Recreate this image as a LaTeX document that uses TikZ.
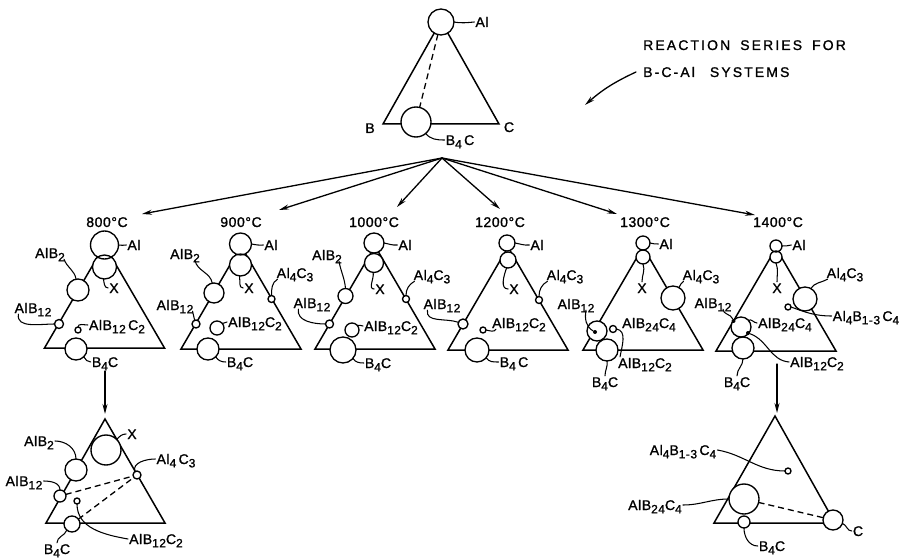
\documentclass[tikz,border=0pt]{standalone}
\usepackage{fontspec}
\setmainfont[LetterSpace=4,FakeBold=1.2]{Liberation Sans}
\usetikzlibrary{arrows.meta}
\pgfdeclarelayer{bg}
\pgfdeclarelayer{fills}
\pgfsetlayers{bg,fills,main}
\newcommand\dn[1]{\raisebox{-0.45ex}{\fontsize{12}{12}\selectfont #1}}
\newcommand\ph[4]{%
  \begin{pgfonlayer}{fills}\fill[white] (#2,-#3) circle[radius=#4pt];\end{pgfonlayer}%
  \node[phase,minimum size={2*#4pt}] (#1) at (#2,-#3) {};}
\begin{document}
\begin{tikzpicture}[x=1pt,y=1pt,line join=round,line cap=round,
  phase/.style={circle,draw,line width=1.35pt,inner sep=0pt,outer sep=0pt},
  tri/.style={line width=1.5pt},
  lead/.style={line width=1.05pt},
  lbl/.style={inner sep=1pt,text height=10pt,text depth=0pt,font=\fontsize{14}{14}\selectfont},
  ttl/.style={inner sep=0pt,anchor=west,text height=10pt,text depth=0pt,font=\fontsize{14}{14}\selectfont\addfontfeatures{LetterSpace=15}},
  arr/.style={line width=1.3pt,-{Stealth[length=10pt,width=5pt]}},
  dotm/.style={circle,fill,inner sep=0pt,minimum size=4pt},
  dsh/.style={line width=1.3pt,dash pattern=on 6pt off 4pt}]
\useasboundingbox (0,0) rectangle (908,-559);

% triangles
\begin{pgfonlayer}{bg}
\draw[tri] (441,-21) -- (383,-124) -- (499,-124) -- cycle;
\foreach \x/\y in {104.5/245, 241/246, 375/246, 508/247, 643/247, 776/248}
  \draw[tri] (\x,-\y) -- ++(-60,-103) -- ++(120,0) -- cycle;
\draw[tri] (105,-419) -- (46,-523) -- (165,-523) -- cycle;
\draw[tri] (775,-416) -- (714,-523) -- (835,-523) -- cycle;
\end{pgfonlayer}

% title
\node[ttl] (ti1) at (643,-45) {REACTION\hspace{10pt}SERIES\hspace{10pt}FOR};
\node[ttl] (ti2) at (643,-72) {B-C-Al\hspace{15pt}SYSTEMS};
\coordinate (tit) at (585,-105);
\draw[arr] ([xshift=-7pt]ti2.west) to[out=205,in=41] (tit);

% top triangle
\ph{Al0}{441}{22}{13}
\ph{Bf0}{416}{122}{15}
\node[lbl] (lAl0) at (482,-22) {Al};
\node[lbl] (lB0) at (370,-128) {B};
\node[lbl] (lC0) at (509,-127) {C};
\node[lbl] (lBf0) at (460,-140) {B\dn{4}\,C};
\draw[lead] (Al0.east) to[out=-10,in=185] (lAl0.west);
\draw[lead] (Bf0.-50) to[out=-50,in=180] (lBf0.west);
\begin{pgfonlayer}{bg}\draw[dsh] (Al0) -- (Bf0);\end{pgfonlayer}

% fan
\coordinate (fan) at (442,-158);
\coordinate (t1) at (142,-214);
\coordinate (t2) at (279,-210);
\coordinate (t3) at (397,-207);
\coordinate (t4) at (500,-209);
\coordinate (t5) at (617,-214);
\coordinate (t6) at (755,-215);
\foreach \t in {t1,t2,t3,t4,t5,t6} \draw[arr] (fan) -- (\t);

\node[lbl] (T1) at (107,-222) {800°C};
\node[lbl] (T2) at (241,-222) {900°C};
\node[lbl] (T3) at (374,-222) {1000°C};
\node[lbl] (T4) at (500,-222) {1200°C};
\node[lbl] (T5) at (645,-222) {1300°C};
\node[lbl] (T6) at (778,-222) {1400°C};

% ---- 800
\ph{Al1}{104.5}{245}{14}
\ph{X1}{104.5}{267}{12}
\ph{Bt1}{78}{290}{11}
\ph{Bw1}{59}{324}{4.5}
\ph{Bc1}{78}{330}{3}
\ph{Bf1}{76}{349}{11}
\node[lbl] (lAl1) at (134,-245) {Al};
\node[lbl] (lX1) at (114,-288) {X};
\node[lbl] (lBt1) at (50,-253) {AlB\dn{2}};
\node[lbl] (lBw1) at (33,-308) {AlB\dn{12}};
\node[lbl] (lBc1) at (117,-325) {AlB\dn{12}\,C\dn{2}};
\node[lbl] (lBf1) at (105,-362) {B\dn{4}C};
\draw[lead] (Al1.east) to[out=-10,in=185] (lAl1.west);
\draw[lead] (X1.-95) to[out=-80,in=180] (lX1.west);
\draw[lead] ([xshift=-2pt]lBt1.south east) to[out=-70,in=100] (Bt1.100);
\draw[lead] ([xshift=5pt]lBw1.south west) to[out=-100,in=180] (Bw1.west);
\draw[lead] (Bc1.north) to[out=90,in=180] (lBc1.west);
\draw[lead] (Bf1.-45) to[out=-60,in=180] (lBf1.west);
\coordinate (dA) at (105,-371);
\coordinate (dB) at (105,-414);
\draw[arr] (dA) -- (dB);

% ---- 900
\ph{Al2}{240.5}{244}{11}
\ph{X2}{240.5}{265}{11}
\ph{Ac2}{271.5}{299}{3.5}
\ph{Bt2}{214}{293}{10}
\ph{Bw2}{196}{324}{4}
\ph{Bc2}{217}{328}{7}
\ph{Bf2}{208}{349}{11}
\node[lbl] (lAl2) at (271,-245) {Al};
\node[lbl] (lX2) at (249,-288) {X};
\node[lbl] (lAc2) at (295,-273) {Al\dn{4}C\dn{3}};
\node[lbl] (lBt2) at (185,-254) {AlB\dn{2}};
\node[lbl] (lBw2) at (175,-305) {AlB\dn{12}};
\node[lbl] (lBc2) at (255,-322) {AlB\dn{12}C\dn{2}};
\node[lbl] (lBf2) at (240,-362) {B\dn{4}C};
\draw[lead] (Al2.east) to[out=-10,in=185] (lAl2.west);
\draw[lead] (X2.-95) to[out=-80,in=180] (lX2.west);
\draw[lead] (Ac2.north) to[out=90,in=-150] ([xshift=2pt]lAc2.south west);
\draw[lead] ([xshift=-6pt]lBt2.south east) to[out=-80,in=100] (Bt2.100);
\draw[lead] ([xshift=-2pt]lBw2.south east) to[out=-70,in=110] (Bw2.110);
\draw[lead] (Bc2.40) to[out=40,in=190] (lBc2.west);
\draw[lead] (Bf2.-45) to[out=-60,in=180] (lBf2.west);

% ---- 1000
\ph{Al3}{374}{243}{10}
\ph{X3}{374}{263}{9.5}
\ph{Ac3}{406}{299}{3.5}
\ph{Bt3}{345.5}{296}{7.5}
\ph{Bw3}{329.5}{324}{4}
\ph{Bc3}{352}{330}{7}
\ph{Bf3}{343}{350}{13}
\node[lbl] (lAl3) at (405,-245) {Al};
\node[lbl] (lX3) at (380,-289) {X};
\node[lbl] (lAc3) at (432,-275) {Al\dn{4}C\dn{3}};
\node[lbl] (lBt3) at (327,-255) {AlB\dn{2}};
\node[lbl] (lBw3) at (312,-303) {AlB\dn{12}};
\node[lbl] (lBc3) at (391,-326) {AlB\dn{12}C\dn{2}};
\node[lbl] (lBf3) at (378,-363) {B\dn{4}C};
\draw[lead] (Al3.east) to[out=-10,in=185] (lAl3.west);
\draw[lead] (X3.-95) to[out=-80,in=180] (lX3.west);
\draw[lead] (Ac3.north) to[out=90,in=-150] ([xshift=2pt]lAc3.south west);
\draw[lead] ([xshift=-4pt]lBt3.south east) to[out=-80,in=95] (Bt3.north);
\draw[lead] ([xshift=6pt]lBw3.south west) to[out=-100,in=180] (Bw3.west);
\draw[lead] (Bc3.40) to[out=40,in=190] (lBc3.west);
\draw[lead] (Bf3.-40) to[out=-60,in=180] (lBf3.west);

% ---- 1200
\ph{Al4}{507}{243}{8}
\ph{X4}{508}{260}{8}
\ph{Ac4}{539}{300}{3.5}
\ph{Bw4}{463}{324}{5}
\ph{Bc4}{483}{330}{3}
\ph{Bf4}{477}{350}{12}
\node[lbl] (lAl4) at (537,-245) {Al};
\node[lbl] (lX4) at (514,-289) {X};
\node[lbl] (lAc4) at (565,-275) {Al\dn{4}C\dn{3}};
\node[lbl] (lBw4) at (442,-304) {AlB\dn{12}};
\node[lbl] (lBc4) at (519,-323) {AlB\dn{12}C\dn{2}};
\node[lbl] (lBf4) at (514,-362) {B\dn{4}\,C};
\draw[lead] (Al4.east) to[out=-10,in=185] (lAl4.west);
\draw[lead] (X4.-100) to[out=-110,in=180] (lX4.west);
\draw[lead] (Ac4.north) to[out=90,in=-150] ([xshift=2pt]lAc4.south west);
\draw[lead] ([xshift=5pt]lBw4.south west) to[out=-100,in=160] (Bw4.160);
\draw[lead] (Bc4.east) to[out=-10,in=-120] ([xshift=5pt]lBc4.south west);
\draw[lead] (Bf4.-40) to[out=-60,in=180] (lBf4.west);

% ---- 1300
\ph{Al5}{643}{243}{7}
\ph{X5}{643}{257}{7}
\ph{Ac5}{673}{298}{12}
\ph{Bw5}{597}{331}{10}
\ph{Bc5}{613}{329}{3.5}
\ph{Bf5}{607}{350}{11}
\node[dotm] (d5) at (595,-332) {};
\node[lbl] (lAl5) at (666,-244) {Al};
\node[lbl] (lX5) at (642,-288) {X};
\node[lbl] (lAc5) at (701,-275) {Al\dn{4}C\dn{3}};
\node[lbl] (lBw5) at (576,-304) {AlB\dn{12}};
\node[lbl] (lBu5) at (649,-323) {AlB\dn{24}C\dn{4}};
\node[lbl] (lBc5) at (645,-363) {AlB\dn{12}C\dn{2}};
\node[lbl] (lBf5) at (605,-382) {B\dn{4}C};
\draw[lead] (Al5.east) to[out=-10,in=185] (lAl5.west);
\draw[lead] (X5.south) to[out=-70,in=90] (lX5.north);
\draw[lead] (Ac5.60) to[out=60,in=-150] ([xshift=2pt]lAc5.south west);
\draw[lead] ([xshift=10pt]lBw5.south) to[out=-100,in=150] (d5);
\draw[lead] (Bc5.east) to[out=-10,in=80] ([xshift=3pt]lBc5.north west);
\draw[lead] (Bf5.south) to[out=-80,in=90] (lBf5.north);

% ---- 1400
\ph{Al6}{776}{246}{6}
\ph{X6}{776}{257}{6}
\ph{Ac6}{805}{299}{12}
\ph{Aq6}{788}{307}{3}
\ph{Bt6}{741}{327}{10}
\ph{Bf6}{743}{348}{11}
\node[dotm] (dw6) at (733.5,-321) {};
\node[dotm] (dc6) at (748,-333) {};
\node[lbl] (lAl6) at (799,-245) {Al};
\node[lbl] (lX6) at (777,-288) {X};
\node[lbl] (lAc6) at (845,-273) {Al\dn{4}C\dn{3}};
\node[lbl] (lAq6) at (866,-316) {Al\dn{4}B\dn{1-3}\,C\dn{4}};
\node[lbl] (lBw6) at (713,-303) {AlB\dn{12}};
\node[lbl] (lBt6) at (785,-323) {AlB\dn{24}C\dn{4}};
\node[lbl] (lBc6) at (817,-362) {AlB\dn{12}C\dn{2}};
\node[lbl] (lBf6) at (737,-382) {B\dn{4}C};
\draw[lead] (Al6.east) to[out=-10,in=185] (lAl6.west);
\draw[lead] (X6.south) to[out=-70,in=90] (lX6.north);
\draw[lead] (Ac6.60) to[out=60,in=-150] ([xshift=2pt]lAc6.south west);
\draw[lead] (Aq6.east) to[out=-20,in=180] (lAq6.west);
\draw[lead] ([xshift=10pt]lBw6.south) to[out=-90,in=110] (dw6);
\draw[lead] (Bt6.40) to[out=50,in=180] (lBt6.west);
\draw[lead] (dc6) to[out=-20,in=175] (lBc6.west);
\draw[lead] (Bf6.south) to[out=-90,in=90] (lBf6.north);
\coordinate (dC) at (777,-364);
\coordinate (dD) at (777,-413);
\draw[arr] (dC) -- (dD);

% ---- bottom left
\ph{Xb}{106}{450}{15}
\ph{Btb}{76}{470}{11}
\ph{Bwb}{60}{496}{6}
\ph{Acb}{137}{475}{4}
\ph{Bcb}{77}{501}{3}
\ph{Bfb}{72}{524}{8}
\node[lbl] (lXb) at (132,-434) {X};
\node[lbl] (lBtb) at (39,-441) {AlB\dn{2}};
\node[lbl] (lBwb) at (24,-481) {AlB\dn{12}};
\node[lbl] (lAcb) at (176,-459) {Al\dn{4}\,C\dn{3}};
\node[lbl] (lBcb) at (156,-539) {AlB\dn{12}C\dn{2}};
\node[lbl] (lBfb) at (57,-549) {B\dn{4}C};
\draw[lead] (Xb.45) to[out=45,in=180] (lXb.west);
\draw[lead] (lBtb.east) to[out=0,in=90] (Btb.north);
\draw[lead] (lBwb.east) to[out=0,in=90] (Bwb.north);
\draw[lead] (Acb.120) to[out=110,in=180] (lAcb.west);
\draw[lead] (Bcb.south) to[out=-90,in=170] (lBcb.west);
\draw[lead] (Bfb.-130) to[out=-110,in=90] (lBfb.north);
\begin{pgfonlayer}{bg}
\draw[dsh] (Bwb) -- (Acb);
\draw[dsh] (Bfb) -- (Acb);
\end{pgfonlayer}

% ---- bottom right
\ph{Aqr}{788}{471}{3}
\ph{Btr}{744}{499}{15}
\ph{Bfr}{744}{522}{6}
\ph{Cr}{833}{520}{10}
\node[lbl] (lAqr) at (683,-450) {Al\dn{4}B\dn{1-3}\,C\dn{4}};
\node[lbl] (lBtr) at (655,-505) {AlB\dn{24}C\dn{4}};
\node[lbl] (lBfr) at (772,-546) {B\dn{4}C};
\node[lbl] (lCr) at (858,-531) {C};
\draw[lead] (lAqr.east) to[out=-10,in=180] (Aqr.west);
\draw[lead] (lBtr.east) to[out=0,in=180] (Btr.west);
\draw[lead] (Bfr.south) to[out=-90,in=180] (lBfr.west);
\draw[lead] (Cr.-20) to[out=-20,in=180] (lCr.west);
\begin{pgfonlayer}{bg}\draw[dsh] (Btr) -- (Cr);\end{pgfonlayer}
\end{tikzpicture}
\end{document}
